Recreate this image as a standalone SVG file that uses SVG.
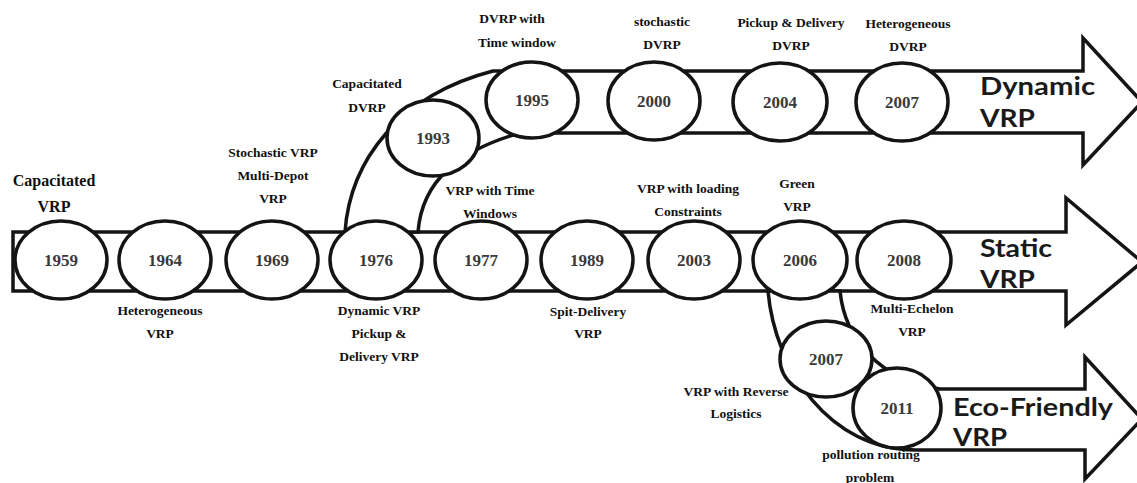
<svg xmlns="http://www.w3.org/2000/svg" width="1137" height="483" viewBox="0 0 1137 483">
<style>
.band{fill:#fff;stroke:#141414;stroke-width:3.5;stroke-linejoin:miter}
.node ellipse{fill:#fff;stroke:#141414;stroke-width:3.5}
.yr{font-family:'Liberation Serif','DejaVu Serif','Times New Roman',serif;font-weight:bold;font-size:17px;fill:#3a3a3a;text-anchor:middle}
.lbl{font-family:'Liberation Serif','DejaVu Serif','Times New Roman',serif;font-weight:bold;font-size:13.5px;fill:#111;text-anchor:middle}
.big{font-family:'Lato','DejaVu Sans',sans-serif;font-weight:bold;font-size:24px;fill:#1a1a1a}
</style>
<rect width="1137" height="483" fill="#fff"/>
<g id="connectors">
  <path class="band" d="M13,232 L1066,232 L1066,198 L1142,262 L1066,325 L1066,291 L13,291 Z"/>
  <path class="band" d="M345,232 C350,160 400,95 493,71 L1083,71 L1083,38 L1142,102 L1083,165 L1083,133 L520,133 C460,150 422,180 418,232 Z"/>
  <path class="band" d="M768,291 C775,370 830,450 915,450 L1085,450 L1085,479 L1142,419 L1085,357 L1085,389 L940,389 C880,380 845,340 840,291 Z"/>
</g>
<g id="n1959" class="node"><ellipse cx="61" cy="260" rx="46" ry="39"/><text class="yr" x="61" y="266">1959</text></g>
<g id="n1964" class="node"><ellipse cx="165" cy="260" rx="46" ry="39"/><text class="yr" x="165" y="266">1964</text></g>
<g id="n1969" class="node"><ellipse cx="272" cy="260" rx="46" ry="39"/><text class="yr" x="272" y="266">1969</text></g>
<g id="n1976" class="node"><ellipse cx="376" cy="260" rx="46" ry="39"/><text class="yr" x="376" y="266">1976</text></g>
<g id="n1977" class="node"><ellipse cx="481" cy="260" rx="46" ry="39"/><text class="yr" x="481" y="266">1977</text></g>
<g id="n1989" class="node"><ellipse cx="587" cy="260" rx="46" ry="39"/><text class="yr" x="587" y="266">1989</text></g>
<g id="n2003" class="node"><ellipse cx="694" cy="260" rx="46" ry="39"/><text class="yr" x="694" y="266">2003</text></g>
<g id="n2006" class="node"><ellipse cx="800" cy="260" rx="47" ry="39"/><text class="yr" x="800" y="266">2006</text></g>
<g id="n2008" class="node"><ellipse cx="904" cy="260" rx="47" ry="39"/><text class="yr" x="904" y="266">2008</text></g>
<g id="n1993" class="node"><ellipse cx="433" cy="138" rx="46" ry="38"/><text class="yr" x="433" y="144">1993</text></g>
<g id="n1995" class="node"><ellipse cx="532" cy="100" rx="46" ry="38"/><text class="yr" x="532" y="106">1995</text></g>
<g id="n2000" class="node"><ellipse cx="654" cy="101" rx="46" ry="39"/><text class="yr" x="654" y="107">2000</text></g>
<g id="n2004" class="node"><ellipse cx="780" cy="102" rx="47" ry="39"/><text class="yr" x="780" y="108">2004</text></g>
<g id="n2007d" class="node"><ellipse cx="902" cy="102" rx="46" ry="39"/><text class="yr" x="902" y="108">2007</text></g>
<g id="n2007e" class="node"><ellipse cx="826" cy="359" rx="46" ry="38"/><text class="yr" x="826" y="365">2007</text></g>
<g id="n2011" class="node"><ellipse cx="897" cy="408" rx="44" ry="40"/><text class="yr" x="897" y="414">2011</text></g>
<g id="labels">
  <text class="lbl" style="font-size:16px" x="54" y="186">Capacitated</text>
  <text class="lbl" style="font-size:16px" x="54" y="212">VRP</text>
  <text class="lbl" x="273" y="157">Stochastic VRP</text>
  <text class="lbl" x="273" y="180">Multi-Depot</text>
  <text class="lbl" x="273" y="203">VRP</text>
  <text class="lbl" x="160" y="315">Heterogeneous</text>
  <text class="lbl" x="160" y="338">VRP</text>
  <text class="lbl" x="379" y="315">Dynamic VRP</text>
  <text class="lbl" x="379" y="338">Pickup &amp;</text>
  <text class="lbl" x="379" y="361">Delivery VRP</text>
  <text class="lbl" x="367" y="88">Capacitated</text>
  <text class="lbl" x="367" y="112">DVRP</text>
  <text class="lbl" x="512" y="23">DVRP with</text>
  <text class="lbl" x="517" y="47">Time window</text>
  <text class="lbl" x="662" y="26">stochastic</text>
  <text class="lbl" x="662" y="49">DVRP</text>
  <text class="lbl" x="791" y="27">Pickup &amp; Delivery</text>
  <text class="lbl" x="791" y="50">DVRP</text>
  <text class="lbl" x="908" y="28">Heterogeneous</text>
  <text class="lbl" x="908" y="51">DVRP</text>
  <text class="lbl" x="490" y="195">VRP with Time</text>
  <text class="lbl" x="490" y="218">Windows</text>
  <text class="lbl" x="688" y="193">VRP with loading</text>
  <text class="lbl" x="688" y="216">Constraints</text>
  <text class="lbl" x="797" y="188">Green</text>
  <text class="lbl" x="797" y="211">VRP</text>
  <text class="lbl" x="588" y="316">Spit-Delivery</text>
  <text class="lbl" x="588" y="338">VRP</text>
  <text class="lbl" x="912" y="313">Multi-Echelon</text>
  <text class="lbl" x="912" y="336">VRP</text>
  <text class="lbl" x="736" y="396">VRP with Reverse</text>
  <text class="lbl" x="736" y="418">Logistics</text>
  <text class="lbl" x="871" y="459">pollution routing</text>
  <text class="lbl" x="870" y="482">problem</text>
  <text class="big" x="980" y="95" textLength="115" lengthAdjust="spacingAndGlyphs">Dynamic</text>
  <text class="big" x="980" y="127" textLength="55" lengthAdjust="spacingAndGlyphs">VRP</text>
  <text class="big" x="980" y="257" textLength="72" lengthAdjust="spacingAndGlyphs">Static</text>
  <text class="big" x="980" y="288" textLength="55" lengthAdjust="spacingAndGlyphs">VRP</text>
  <text class="big" x="953" y="416" textLength="160" lengthAdjust="spacingAndGlyphs">Eco-Friendly</text>
  <text class="big" x="953" y="446" textLength="54" lengthAdjust="spacingAndGlyphs">VRP</text>
</g>
</svg>
